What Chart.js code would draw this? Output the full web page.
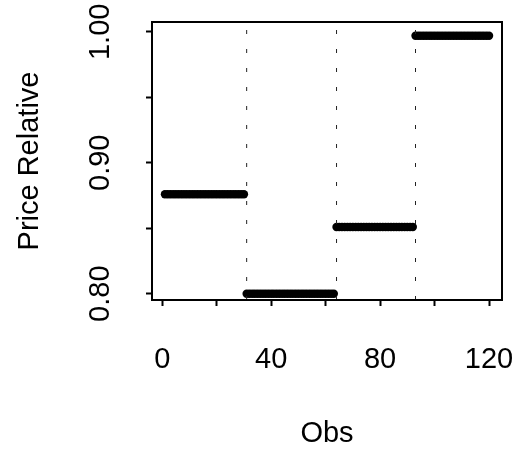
<!DOCTYPE html>
<html>
<head>
<meta charset="utf-8">
<script src="https://cdn.jsdelivr.net/npm/chart.js@4.4.1/dist/chart.umd.min.js"></script>
<style>
  html, body { margin: 0; padding: 0; background: #fff; }
  #chart { display: block; }
</style>
</head>
<body>
<canvas id="chart" width="516" height="453"></canvas>
<script>
// ---------------------- Data ----------------------
// price relative level of each regime and the last obs of that regime
const LEVELS   = [0.876, 0.800, 0.851, 0.997];
const SEG_LAST = [30, 63, 92, 120];
// change points (dotted vertical lines)
const BREAKS   = [31, 64, 93];

const XTICKS  = [0, 20, 40, 60, 80, 100, 120];
const XLABELS = ['0', '', '40', '', '80', '', '120'];
const YTICKS  = [0.80, 0.85, 0.90, 0.95, 1.00];
const YLABELS = ['0.80', '', '0.90', '', '1.00'];

const X_MIN = -3.76, X_MAX = 124.76;
const Y_MIN = 0.7952, Y_MAX = 1.0075;

const FONT = '29px "Liberation Sans", Arial, Helvetica, sans-serif';

// ---------------------- Build points ----------------------
const points = [];
let first = 1;
LEVELS.forEach((lvl, i) => {
  for (let obs = first; obs <= SEG_LAST[i]; obs++) points.push({ x: obs, y: lvl });
  first = SEG_LAST[i] + 1;
});

const breakSets = BREAKS.map(b => ({
  type: 'line',
  data: [{ x: b, y: Y_MIN }, { x: b, y: Y_MAX }],
  borderColor: '#222',
  borderWidth: 1,
  borderDash: [4, 15],
  pointRadius: 0,
  fill: false,
}));

// ---------------------- Plugins ----------------------
const frameAndText = {
  id: 'frameAndText',
  afterDraw(chart) {
    const { ctx, chartArea: a, scales } = chart;
    ctx.save();
    ctx.strokeStyle = '#000';
    ctx.lineWidth = 2;
    ctx.strokeRect(a.left, a.top, a.right - a.left, a.bottom - a.top);

    ctx.fillStyle = '#000';
    ctx.font = FONT;
    ctx.textAlign = 'center';
    ctx.textBaseline = 'middle';

    XTICKS.forEach((v, i) => {
      if (!XLABELS[i]) return;
      ctx.fillText(XLABELS[i], scales.x.getPixelForValue(v), 359.5);
    });
    ctx.fillText('Obs', (a.left + a.right) / 2, 434);

    YTICKS.forEach((v, i) => {
      if (!YLABELS[i]) return;
      ctx.save();
      ctx.translate(101, scales.y.getPixelForValue(v));
      ctx.rotate(-Math.PI / 2);
      ctx.fillText(YLABELS[i], 0, 0);
      ctx.restore();
    });

    ctx.save();
    ctx.translate(30, (a.top + a.bottom) / 2);
    ctx.rotate(-Math.PI / 2);
    ctx.fillText('Price Relative', 0, 0);
    ctx.restore();
    ctx.restore();
  },
};

// ---------------------- Chart ----------------------
new Chart(document.getElementById('chart'), {
  type: 'scatter',
  data: {
    datasets: [
      ...breakSets,
      {
        data: points,
        backgroundColor: '#000',
        borderWidth: 0,
        pointRadius: 4.2,
        pointHoverRadius: 4.2,
      },
    ],
  },
  options: {
    responsive: false,
    devicePixelRatio: 1,
    animation: false,
    events: [],
    layout: { padding: { top: 22, right: 14, left: 0, bottom: 0 } },
    plugins: { legend: { display: false }, tooltip: { enabled: false } },
    scales: {
      x: {
        type: 'linear',
        min: X_MIN,
        max: X_MAX,
        afterBuildTicks: (s) => { s.ticks = XTICKS.map(v => ({ value: v })); },
        afterFit: (s) => { s.height = 153; },
        ticks: { display: false },
        border: { display: false },
        grid: { drawOnChartArea: false, drawTicks: true, tickLength: 6, tickColor: '#000', tickWidth: 2 },
      },
      y: {
        type: 'linear',
        min: Y_MIN,
        max: Y_MAX,
        afterBuildTicks: (s) => { s.ticks = YTICKS.map(v => ({ value: v })); },
        afterFit: (s) => { s.width = 152; },
        ticks: { display: false },
        border: { display: false },
        grid: { drawOnChartArea: false, drawTicks: true, tickLength: 6, tickColor: '#000', tickWidth: 2 },
      },
    },
  },
  plugins: [frameAndText],
});
</script>
</body>
</html>
